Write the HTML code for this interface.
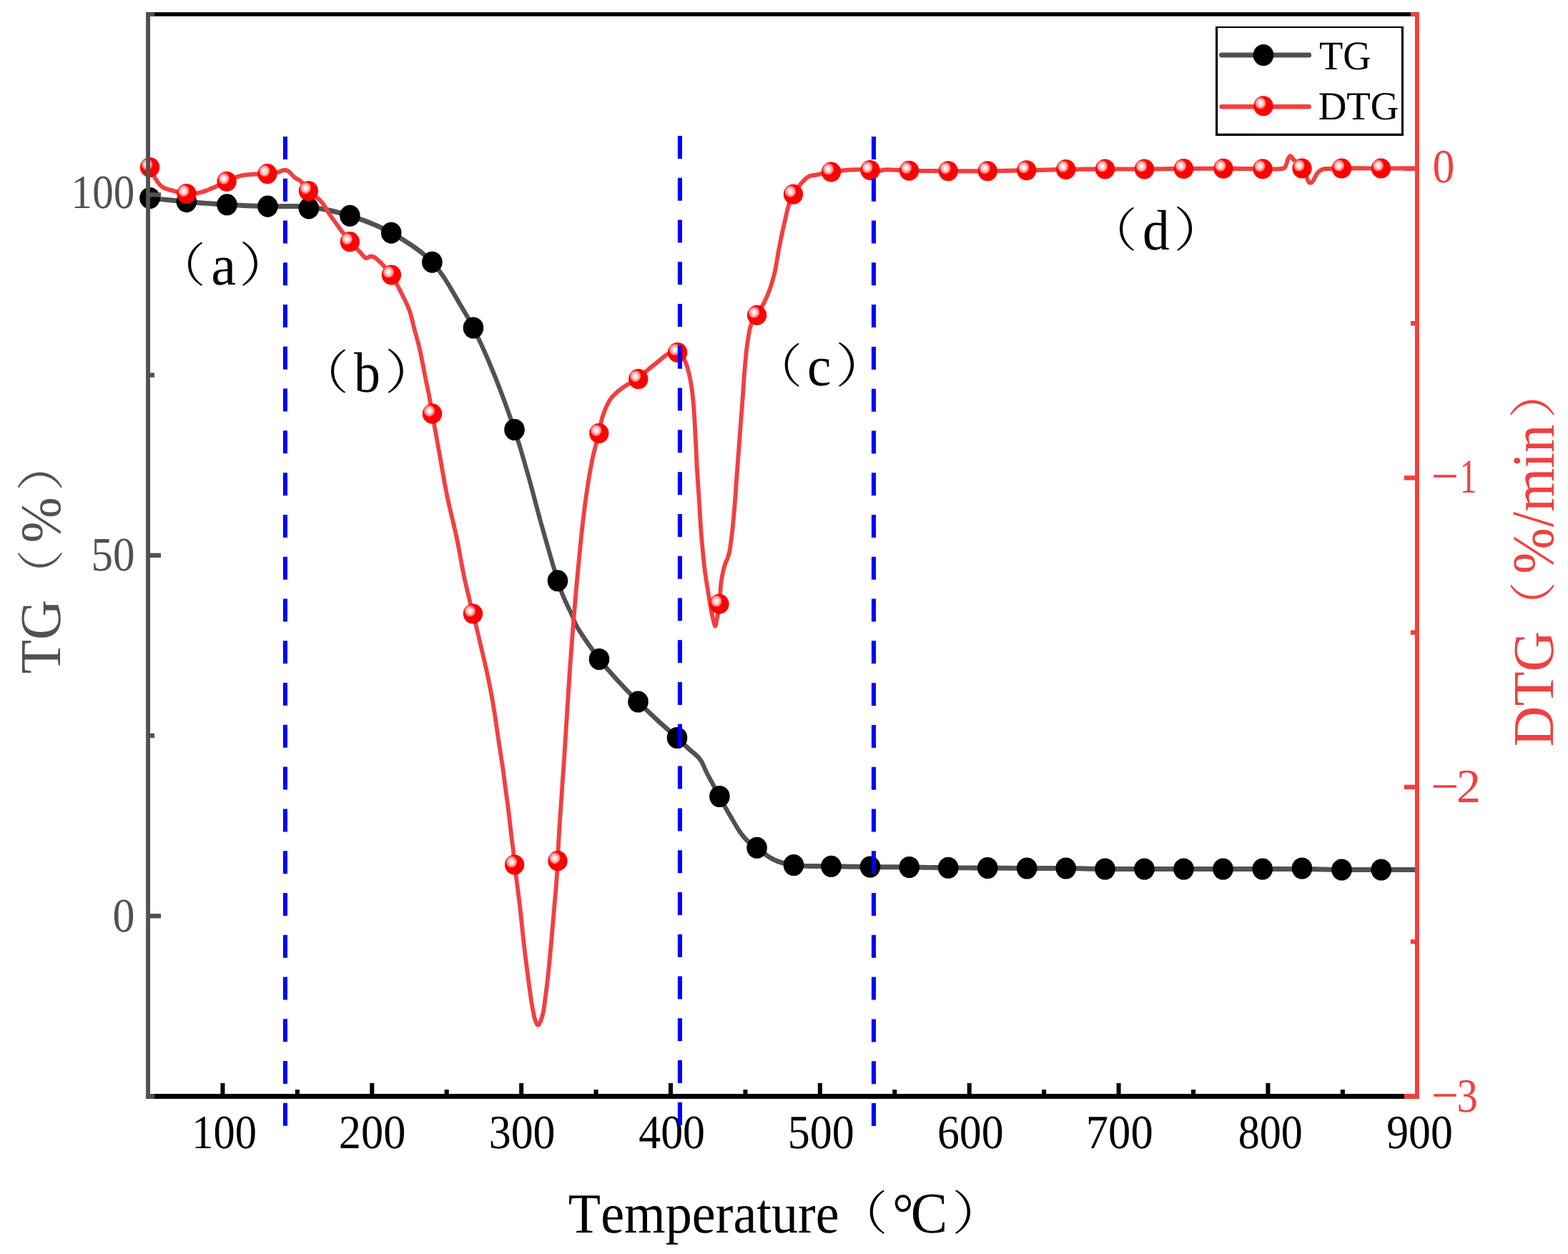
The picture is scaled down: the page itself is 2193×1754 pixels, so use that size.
<!DOCTYPE html>
<html lang="en"><head><meta charset="utf-8"><title>TG / DTG curves</title>
<style>html,body{margin:0;padding:0;background:#fff}body{width:2193px;height:1754px;overflow:hidden}svg{display:block}text{font-kerning:none;text-rendering:geometricPrecision}</style></head>
<body>
<svg width="2193" height="1754" viewBox="0 0 2193 1754" style="display:block;font-kerning:none">
<rect width="2193" height="1754" fill="#fff"/>
<defs>
<g id="rm"><ellipse rx="13.65" ry="14.1" fill="#FF0000"/><g transform="translate(-4.05,-4.0)"><ellipse rx="7.6" ry="8.0" fill="#ff6e6e"/><ellipse rx="6.2" ry="6.5" fill="#ffa0a0"/><ellipse rx="4.9" ry="5.2" fill="#ffc6c6"/><ellipse rx="2.6" ry="3.2" fill="#fff6f6"/></g></g>
<ellipse id="bm" rx="14.3" ry="15.05" fill="#000"/></defs>
<path transform="scale(1,1.16)" d="M207.00,238.62 209.73,238.87 216.93,239.50 227.13,240.40 238.84,241.40 250.59,242.38 260.90,243.19 270.25,243.87 279.65,244.54 289.10,245.17 298.56,245.76 308.04,246.31 317.50,246.81 326.97,247.25 336.44,247.64 345.92,247.98 355.40,248.28 364.90,248.55 374.40,248.79 383.97,248.88 393.57,248.78 403.17,248.65 412.77,248.64 422.35,248.89 431.90,249.57 441.54,250.66 451.17,252.03 460.78,253.68 470.36,255.59 479.91,257.76 489.40,260.17 499.17,262.90 508.92,265.86 518.63,269.09 528.27,272.63 537.80,276.51 547.20,280.78 557.17,285.66 567.19,290.89 577.10,296.50 586.72,302.54 595.87,309.07 604.40,316.12 612.71,324.53 620.58,334.03 627.94,344.06 634.75,354.04 640.96,363.40 646.50,371.55 649.57,375.92 652.23,379.77 654.65,383.36 656.97,386.96 659.37,390.84 662.00,395.26 666.19,402.58 670.62,410.63 675.19,419.26 679.84,428.30 684.47,437.60 689.00,446.98 694.23,458.22 699.55,470.08 704.85,482.27 710.02,494.52 714.94,506.56 719.50,518.10 723.17,527.79 726.58,537.22 729.80,546.48 732.90,555.67 735.94,564.86 739.00,574.14 741.99,583.39 744.85,592.57 747.67,601.76 750.50,611.03 753.42,620.48 756.50,630.17 760.38,642.07 764.66,655.09 769.06,668.32 773.28,680.86 777.03,691.80 780.00,700.26 780.97,702.93 781.79,705.17 782.53,707.13 783.24,708.94 783.98,710.74 784.80,712.67 785.69,714.67 786.59,716.62 787.53,718.57 788.50,720.53 789.52,722.55 790.60,724.66 792.03,727.36 793.61,730.21 795.25,733.15 796.89,736.08 798.47,738.94 799.90,741.64 800.94,743.75 801.86,745.78 802.74,747.75 803.63,749.70 804.60,751.65 805.70,753.62 807.06,755.79 808.53,757.97 810.10,760.14 811.72,762.31 813.36,764.48 815.00,766.64 816.66,768.81 818.35,770.96 820.07,773.10 821.81,775.26 823.59,777.44 825.40,779.66 827.36,782.08 829.29,784.51 831.27,786.97 833.33,789.48 835.56,792.09 838.00,794.83 841.71,798.79 845.83,803.03 850.23,807.43 854.80,811.90 859.43,816.36 864.00,820.69 868.64,825.00 873.36,829.31 878.15,833.60 882.96,837.84 887.76,842.02 892.50,846.12 896.93,849.91 901.32,853.62 905.70,857.28 910.09,860.90 914.52,864.50 919.00,868.10 923.68,871.79 928.51,875.50 933.37,879.20 938.15,882.83 942.74,886.33 947.00,889.66 950.10,892.13 953.04,894.50 955.84,896.79 958.58,899.03 961.28,901.24 964.00,903.45 966.61,905.46 969.26,907.37 971.89,909.26 974.43,911.20 976.82,913.26 979.00,915.52 980.96,918.07 982.64,920.77 984.16,923.60 985.64,926.55 987.22,929.61 989.00,932.76 991.68,937.12 994.68,941.89 997.83,946.83 1000.95,951.71 1003.86,956.29 1006.40,960.34 1007.84,962.70 1009.13,964.85 1010.33,966.87 1011.51,968.82 1012.71,970.79 1014.00,972.84 1015.46,975.10 1016.95,977.35 1018.48,979.61 1020.04,981.91 1021.65,984.24 1023.30,986.64 1025.25,989.51 1027.29,992.54 1029.38,995.62 1031.50,998.66 1033.62,1001.53 1035.70,1004.14 1037.30,1006.01 1038.87,1007.75 1040.43,1009.39 1042.03,1010.96 1043.71,1012.48 1045.50,1013.97 1047.46,1015.43 1049.50,1016.79 1051.61,1018.10 1053.82,1019.40 1056.15,1020.76 1058.60,1022.24 1062.12,1024.51 1065.88,1027.05 1069.85,1029.70 1073.97,1032.28 1078.20,1034.65 1082.50,1036.64 1086.75,1038.22 1091.03,1039.53 1095.42,1040.64 1099.99,1041.57 1104.82,1042.38 1110.00,1043.10 1117.73,1043.85 1126.17,1044.26 1135.10,1044.44 1144.28,1044.48 1153.49,1044.51 1162.50,1044.61 1171.52,1044.77 1180.59,1044.90 1189.68,1045.01 1198.79,1045.09 1207.90,1045.17 1217.00,1045.26 1226.12,1045.34 1235.25,1045.41 1244.38,1045.47 1253.50,1045.54 1262.63,1045.61 1271.75,1045.69 1280.84,1045.79 1289.92,1045.91 1298.99,1046.03 1308.07,1046.14 1317.15,1046.25 1326.25,1046.34 1335.40,1046.39 1344.56,1046.43 1353.73,1046.46 1362.91,1046.48 1372.08,1046.51 1381.25,1046.55 1390.42,1046.62 1399.59,1046.70 1408.77,1046.78 1417.94,1046.86 1427.10,1046.93 1436.25,1046.98 1445.35,1047.00 1454.43,1046.98 1463.51,1046.96 1472.58,1046.93 1481.66,1046.94 1490.75,1046.98 1499.87,1047.09 1508.99,1047.24 1518.11,1047.41 1527.24,1047.59 1536.37,1047.74 1545.50,1047.84 1554.66,1047.89 1563.82,1047.91 1572.99,1047.90 1582.16,1047.88 1591.33,1047.85 1600.50,1047.84 1609.67,1047.84 1618.83,1047.84 1628.00,1047.84 1637.17,1047.84 1646.33,1047.84 1655.50,1047.84 1664.67,1047.84 1673.83,1047.84 1682.99,1047.84 1692.16,1047.84 1701.33,1047.84 1710.50,1047.84 1719.70,1047.84 1728.91,1047.84 1738.12,1047.84 1747.33,1047.84 1756.54,1047.84 1765.75,1047.84 1774.96,1047.83 1784.16,1047.81 1793.37,1047.79 1802.57,1047.78 1811.78,1047.80 1821.00,1047.84 1830.24,1047.95 1839.50,1048.10 1848.75,1048.28 1858.00,1048.45 1867.26,1048.60 1876.50,1048.71 1885.77,1048.76 1895.09,1048.77 1904.40,1048.76 1913.66,1048.74 1922.79,1048.72 1931.75,1048.71 1940.93,1048.71 1951.27,1048.71 1961.51,1048.71 1970.39,1048.71 1976.64,1048.71 1979.00,1048.71" fill="none" stroke="#515151" stroke-width="6.0" stroke-linejoin="round" stroke-linecap="butt"/>
<g><use href="#bm" x="209.5" y="277"/><use href="#bm" x="260.9" y="282.1"/><use href="#bm" x="317.5" y="286.3"/><use href="#bm" x="374.4" y="288.6"/><use href="#bm" x="431.9" y="291.4"/><use href="#bm" x="489.4" y="301.8"/><use href="#bm" x="547.2" y="325.7"/><use href="#bm" x="604.4" y="366.7"/><use href="#bm" x="662" y="458.5"/><use href="#bm" x="719.5" y="601"/><use href="#bm" x="780" y="812.3"/><use href="#bm" x="838" y="922"/><use href="#bm" x="892.5" y="981.5"/><use href="#bm" x="947" y="1032"/><use href="#bm" x="1006.4" y="1114"/><use href="#bm" x="1058.6" y="1185.8"/><use href="#bm" x="1110" y="1210"/><use href="#bm" x="1162.5" y="1211.75"/><use href="#bm" x="1217" y="1212.5"/><use href="#bm" x="1271.75" y="1213"/><use href="#bm" x="1326.25" y="1213.75"/><use href="#bm" x="1381.25" y="1214"/><use href="#bm" x="1436.25" y="1214.5"/><use href="#bm" x="1490.75" y="1214.5"/><use href="#bm" x="1545.5" y="1215.5"/><use href="#bm" x="1600.5" y="1215.5"/><use href="#bm" x="1655.5" y="1215.5"/><use href="#bm" x="1710.5" y="1215.5"/><use href="#bm" x="1765.75" y="1215.5"/><use href="#bm" x="1821" y="1214.5"/><use href="#bm" x="1876.5" y="1216.5"/><use href="#bm" x="1931.75" y="1216.5"/></g>
<path transform="scale(1,1.045)" d="M207.00,221.05 207.51,222.02 208.87,224.53 210.81,228.04 213.04,231.97 215.29,235.76 217.30,238.85 218.75,240.97 220.15,243.02 221.56,244.98 223.07,246.80 224.72,248.47 226.60,249.95 228.91,251.28 231.48,252.36 234.22,253.26 237.07,254.03 239.96,254.76 242.80,255.50 245.73,256.32 248.71,257.12 251.73,257.88 254.77,258.53 257.83,259.03 260.90,259.33 264.04,259.44 267.21,259.38 270.41,259.16 273.60,258.81 276.77,258.32 279.90,257.70 283.05,256.91 286.17,255.93 289.27,254.81 292.35,253.60 295.43,252.34 298.50,251.10 301.62,249.81 304.72,248.44 307.81,247.03 310.90,245.61 314.00,244.21 317.10,242.87 320.17,241.54 323.23,240.17 326.30,238.82 329.37,237.55 332.47,236.42 335.60,235.50 338.65,234.84 341.73,234.35 344.82,234.00 347.93,233.74 351.06,233.52 354.20,233.30 357.48,233.12 360.82,233.03 364.18,232.99 367.51,232.94 370.77,232.84 373.90,232.63 376.59,232.37 379.27,232.07 381.89,231.72 384.41,231.34 386.79,230.91 389.00,230.43 390.52,229.98 391.95,229.44 393.30,228.87 394.59,228.35 395.85,227.95 397.10,227.75 398.11,227.72 399.08,227.76 400.03,227.89 400.97,228.12 401.92,228.45 402.90,228.90 404.40,229.92 405.93,231.35 407.48,233.01 409.05,234.73 410.62,236.36 412.20,237.70 413.54,238.56 414.89,239.24 416.24,239.85 417.60,240.48 418.95,241.23 420.30,242.20 422.11,243.95 423.85,246.05 425.59,248.38 427.39,250.81 429.31,253.23 431.40,255.50 434.11,257.91 437.12,260.21 440.28,262.48 443.45,264.81 446.51,267.28 449.30,269.95 451.88,273.00 454.27,276.28 456.52,279.71 458.71,283.18 460.91,286.63 463.20,289.95 465.50,293.08 467.83,296.19 470.16,299.27 472.50,302.30 474.82,305.29 477.10,308.23 479.16,310.91 481.19,313.55 483.19,316.15 485.21,318.71 487.27,321.21 489.40,323.64 491.56,325.93 493.82,328.18 496.11,330.37 498.39,332.50 500.60,334.57 502.70,336.56 504.36,338.30 505.96,340.18 507.52,342.01 509.04,343.62 510.53,344.82 512.00,345.45 512.98,345.44 513.93,345.10 514.87,344.57 515.80,343.99 516.74,343.51 517.70,343.25 518.65,343.20 519.60,343.24 520.55,343.36 521.52,343.58 522.50,343.89 523.50,344.31 524.97,345.13 526.47,346.21 528.00,347.50 529.56,348.94 531.16,350.48 532.80,352.06 535.15,354.34 537.69,356.89 540.29,359.62 542.85,362.43 545.26,365.24 547.40,367.94 548.99,370.17 550.41,372.39 551.73,374.59 552.98,376.81 554.22,379.06 555.50,381.34 556.86,383.75 558.20,386.17 559.52,388.62 560.84,391.11 562.17,393.65 563.50,396.27 565.02,399.24 566.58,402.27 568.15,405.36 569.68,408.54 571.14,411.82 572.50,415.22 573.88,419.25 575.14,423.48 576.30,427.84 577.42,432.27 578.54,436.69 579.70,441.05 580.91,445.31 582.13,449.52 583.35,453.73 584.56,457.99 585.75,462.36 586.90,466.89 588.16,472.33 589.38,477.99 590.57,483.80 591.74,489.67 592.91,495.54 594.10,501.34 595.34,507.19 596.62,513.20 597.90,519.20 599.14,525.05 600.29,530.60 601.30,535.69 601.91,538.93 602.42,541.81 602.89,544.53 603.36,547.30 603.88,550.31 604.50,553.78 605.77,560.63 607.25,568.45 608.87,576.97 610.58,585.89 612.31,594.94 614.00,603.83 615.80,613.50 617.60,623.42 619.43,633.49 621.30,643.61 623.25,653.69 625.30,663.64 627.47,673.33 629.79,683.02 632.18,692.66 634.57,702.24 636.86,711.71 639.00,721.05 640.79,729.61 642.44,738.04 644.01,746.38 645.59,754.68 647.22,762.97 649.00,771.29 651.02,780.04 653.24,789.21 655.53,798.37 657.76,807.10 659.79,814.96 661.50,821.53 662.23,824.30 662.87,826.62 663.45,828.71 664.02,830.75 664.62,832.95 665.30,835.50 666.46,840.03 667.72,845.08 669.05,850.49 670.41,856.08 671.78,861.67 673.10,867.08 674.40,872.36 675.71,877.63 677.02,882.91 678.32,888.19 679.58,893.47 680.80,898.76 681.97,904.01 683.12,909.27 684.23,914.53 685.32,919.80 686.38,925.06 687.40,930.33 688.39,935.61 689.34,940.88 690.26,946.16 691.16,951.44 692.04,956.73 692.90,962.01 693.74,967.29 694.54,972.57 695.32,977.85 696.10,983.13 696.89,988.41 697.70,993.68 698.54,998.95 699.40,1004.21 700.27,1009.47 701.14,1014.73 701.99,1020.00 702.80,1025.26 703.57,1030.54 704.32,1035.82 705.04,1041.10 705.76,1046.38 706.47,1051.66 707.20,1056.94 707.94,1062.20 708.69,1067.46 709.44,1072.73 710.18,1077.99 710.90,1083.25 711.60,1088.52 712.27,1093.87 712.93,1099.31 713.56,1104.75 714.19,1110.10 714.80,1115.28 715.40,1120.19 715.90,1124.00 716.40,1127.66 716.90,1131.21 717.37,1134.66 717.81,1138.03 718.20,1141.34 718.48,1144.14 718.70,1146.85 718.90,1149.50 719.10,1152.12 719.32,1154.75 719.60,1157.42 719.93,1160.10 720.30,1162.68 720.68,1165.26 721.10,1167.97 721.54,1170.90 722.00,1174.16 722.84,1180.40 723.79,1187.54 724.80,1195.29 725.84,1203.34 726.85,1211.39 727.80,1219.14 728.67,1226.63 729.49,1234.13 730.29,1241.63 731.10,1249.12 731.92,1256.62 732.80,1264.11 733.74,1271.72 734.73,1279.45 735.74,1287.18 736.75,1294.78 737.75,1302.12 738.70,1309.09 739.45,1314.55 740.18,1319.91 740.91,1325.09 741.62,1330.05 742.31,1334.72 743.00,1339.04 743.47,1341.87 743.93,1344.51 744.39,1347.01 744.84,1349.41 745.31,1351.74 745.80,1354.07 746.22,1356.12 746.62,1358.15 747.03,1360.14 747.48,1362.06 748.00,1363.87 748.60,1365.55 749.16,1366.92 749.78,1368.37 750.45,1369.76 751.13,1370.93 751.82,1371.75 752.50,1372.06 753.19,1371.76 753.90,1370.95 754.62,1369.77 755.32,1368.38 755.99,1366.92 756.60,1365.55 757.28,1363.87 757.89,1362.06 758.45,1360.15 758.96,1358.16 759.44,1356.12 759.90,1354.07 760.37,1351.75 760.76,1349.41 761.12,1347.01 761.46,1344.51 761.81,1341.87 762.20,1339.04 762.81,1334.72 763.45,1330.05 764.11,1325.09 764.78,1319.91 765.45,1314.56 766.10,1309.09 766.88,1302.13 767.67,1294.78 768.44,1287.18 769.21,1279.45 769.96,1271.72 770.70,1264.11 771.41,1256.62 772.11,1249.12 772.79,1241.63 773.47,1234.13 774.13,1226.64 774.80,1219.14 775.49,1211.46 776.20,1203.55 776.91,1195.65 777.58,1187.97 778.19,1180.73 778.70,1174.16 778.98,1170.11 779.22,1166.42 779.43,1162.95 779.62,1159.55 779.80,1156.06 780.00,1152.34 780.23,1147.79 780.46,1143.07 780.67,1138.24 780.90,1133.35 781.14,1128.47 781.40,1123.64 781.69,1118.85 781.99,1114.07 782.31,1109.28 782.63,1104.50 782.97,1099.71 783.30,1094.93 783.64,1090.14 783.99,1085.36 784.34,1080.57 784.70,1075.79 785.05,1071.00 785.40,1066.22 785.74,1061.44 786.07,1056.65 786.40,1051.87 786.73,1047.08 787.06,1042.30 787.40,1037.51 787.75,1032.73 788.10,1027.94 788.46,1023.16 788.81,1018.37 789.16,1013.59 789.50,1008.80 789.83,1004.02 790.15,999.23 790.46,994.45 790.77,989.67 791.09,984.88 791.40,980.10 791.72,975.31 792.03,970.53 792.35,965.74 792.67,960.96 792.98,956.17 793.30,951.39 793.62,946.60 793.93,941.82 794.24,937.03 794.56,932.25 794.88,927.46 795.20,922.68 795.53,917.89 795.85,913.11 796.18,908.32 796.51,903.54 796.85,898.76 797.20,893.97 797.55,889.19 797.91,884.40 798.28,879.62 798.65,874.83 799.03,870.05 799.40,865.26 799.78,860.48 800.15,855.69 800.53,850.91 800.91,846.12 801.30,841.34 801.70,836.56 802.10,831.77 802.51,826.98 802.93,822.20 803.35,817.42 803.78,812.63 804.20,807.85 804.63,803.06 805.05,798.28 805.48,793.49 805.91,788.71 806.35,783.92 806.80,779.14 807.25,774.35 807.71,769.57 808.18,764.78 808.64,760.00 809.12,755.21 809.60,750.43 810.09,745.65 810.57,740.86 811.07,736.08 811.57,731.29 812.08,726.51 812.60,721.72 813.13,716.94 813.66,712.15 814.19,707.37 814.74,702.58 815.31,697.80 815.90,693.01 816.51,688.23 817.13,683.44 817.77,678.66 818.43,673.87 819.10,669.09 819.80,664.31 820.51,659.52 821.23,654.73 821.98,649.94 822.75,645.16 823.55,640.38 824.40,635.60 825.29,630.79 826.20,625.98 827.16,621.17 828.15,616.37 829.20,611.61 830.30,606.89 831.49,602.26 832.80,597.59 834.16,592.95 835.50,588.41 836.74,584.04 837.80,579.90 838.48,576.82 839.06,573.83 839.57,570.95 840.07,568.18 840.60,565.52 841.20,562.97 841.73,561.01 842.27,559.17 842.83,557.39 843.42,555.65 844.04,553.92 844.70,552.15 845.43,550.29 846.21,548.40 847.02,546.51 847.86,544.65 848.72,542.86 849.60,541.15 850.36,539.74 851.11,538.39 851.88,537.09 852.68,535.81 853.55,534.56 854.50,533.30 855.65,531.92 856.90,530.56 858.22,529.21 859.59,527.89 860.99,526.60 862.40,525.36 863.83,524.15 865.30,522.98 866.80,521.84 868.31,520.73 869.82,519.67 871.30,518.66 872.60,517.81 873.86,517.02 875.11,516.26 876.40,515.52 877.75,514.76 879.20,513.97 881.27,512.95 883.54,511.96 885.92,510.95 888.32,509.87 890.64,508.69 892.80,507.37 894.77,505.85 896.59,504.17 898.33,502.39 900.07,500.55 901.87,498.72 903.80,496.94 906.11,495.00 908.53,493.06 911.02,491.12 913.56,489.19 916.09,487.27 918.60,485.36 921.11,483.39 923.69,481.33 926.28,479.28 928.80,477.35 931.19,475.64 933.40,474.26 934.69,473.55 935.89,472.93 937.05,472.41 938.18,471.97 939.32,471.63 940.50,471.39 941.68,471.24 942.90,471.17 944.12,471.19 945.33,471.29 946.50,471.48 947.60,471.77 948.59,472.14 949.56,472.60 950.48,473.14 951.37,473.75 952.21,474.41 953.00,475.12 953.78,475.92 954.48,476.78 955.14,477.70 955.77,478.68 956.38,479.74 957.00,480.86 957.81,482.49 958.60,484.25 959.36,486.14 960.09,488.13 960.81,490.20 961.50,492.34 962.34,495.17 963.16,498.20 963.93,501.35 964.67,504.58 965.36,507.82 966.00,511.00 966.58,514.17 967.10,517.35 967.57,520.55 968.00,523.75 968.41,526.95 968.80,530.14 969.16,533.33 969.50,536.52 969.80,539.71 970.08,542.90 970.35,546.09 970.60,549.28 970.84,552.47 971.05,555.66 971.25,558.85 971.44,562.04 971.62,565.23 971.80,568.42 971.98,571.61 972.15,574.80 972.31,577.99 972.47,581.18 972.64,584.37 972.80,587.56 972.97,590.76 973.14,593.98 973.31,597.19 973.48,600.39 973.64,603.57 973.80,606.70 973.93,609.58 974.05,612.36 974.17,615.13 974.29,617.93 974.43,620.84 974.60,623.92 974.86,628.07 975.16,632.47 975.49,637.03 975.83,641.69 976.18,646.37 976.50,651.00 976.82,655.77 977.14,660.57 977.45,665.40 977.77,670.24 978.08,675.08 978.40,679.90 978.71,684.71 979.01,689.51 979.31,694.31 979.62,699.11 979.94,703.91 980.30,708.71 980.68,713.52 981.09,718.34 981.51,723.16 981.96,727.98 982.42,732.79 982.90,737.61 983.39,742.43 983.90,747.25 984.42,752.07 984.97,756.89 985.56,761.70 986.20,766.51 986.90,771.32 987.64,776.12 988.43,780.92 989.24,785.71 990.07,790.51 990.90,795.31 991.74,800.25 992.60,805.35 993.47,810.44 994.36,815.39 995.27,820.03 996.20,824.21 996.88,827.12 997.59,830.18 998.32,833.10 999.03,835.57 999.69,837.27 1000.30,837.89 1000.74,837.46 1001.14,836.32 1001.51,834.67 1001.87,832.72 1002.23,830.66 1002.60,828.71 1003.18,825.84 1003.77,822.71 1004.36,819.35 1004.94,815.81 1005.49,812.15 1006.00,808.42 1006.53,803.54 1006.95,798.30 1007.34,792.86 1007.75,787.41 1008.25,782.14 1008.90,777.22 1009.57,773.37 1010.30,769.62 1011.10,765.98 1011.95,762.49 1012.85,759.15 1013.80,755.98 1014.62,753.67 1015.52,751.55 1016.45,749.54 1017.36,747.52 1018.23,745.40 1019.00,743.06 1019.83,739.82 1020.55,736.40 1021.19,732.81 1021.77,729.04 1022.33,725.12 1022.90,721.05 1023.63,715.55 1024.31,709.73 1024.96,703.65 1025.59,697.36 1026.20,690.93 1026.80,684.40 1027.48,676.68 1028.12,668.66 1028.75,660.44 1029.36,652.13 1029.98,643.82 1030.60,635.60 1031.23,627.45 1031.86,619.30 1032.49,611.15 1033.13,603.00 1033.76,594.85 1034.40,586.70 1035.05,578.56 1035.70,570.43 1036.36,562.30 1037.01,554.16 1037.66,546.03 1038.30,537.89 1038.92,529.64 1039.51,521.25 1040.09,512.87 1040.69,504.61 1041.32,496.61 1042.00,489.00 1042.58,482.96 1043.15,477.10 1043.75,471.42 1044.39,465.92 1045.10,460.61 1045.90,455.50 1046.59,451.38 1047.27,447.33 1048.00,443.41 1048.82,439.67 1049.81,436.19 1051.00,433.01 1052.06,430.92 1053.24,429.11 1054.50,427.44 1055.83,425.78 1057.20,423.98 1058.60,421.91 1060.77,418.41 1063.14,414.51 1065.60,410.34 1068.05,405.98 1070.39,401.54 1072.50,397.13 1074.46,392.58 1076.28,387.96 1077.98,383.26 1079.57,378.45 1081.07,373.51 1082.50,368.42 1083.98,362.36 1085.28,356.01 1086.47,349.50 1087.61,342.93 1088.77,336.44 1090.00,330.14 1091.23,324.36 1092.47,318.59 1093.73,312.89 1094.99,307.30 1096.25,301.87 1097.50,296.65 1098.53,292.33 1099.53,288.07 1100.53,283.93 1101.55,279.96 1102.61,276.20 1103.75,272.73 1104.58,270.38 1105.36,268.26 1106.16,266.26 1107.07,264.29 1108.15,262.25 1109.50,260.05 1112.10,256.22 1115.31,251.86 1118.92,247.35 1122.71,243.08 1126.48,239.45 1130.00,236.84 1132.07,235.83 1134.09,235.21 1136.09,234.84 1138.13,234.60 1140.25,234.35 1142.50,233.97 1145.52,233.33 1148.69,232.67 1151.99,231.99 1155.41,231.33 1158.92,230.71 1162.50,230.14 1166.82,229.53 1171.34,228.94 1175.98,228.39 1180.68,227.92 1185.37,227.54 1190.00,227.27 1194.70,227.12 1199.61,227.05 1204.52,227.07 1209.20,227.18 1213.44,227.41 1217.00,227.75 1218.60,228.04 1219.96,228.43 1221.19,228.85 1222.38,229.24 1223.62,229.53 1225.00,229.67 1226.85,229.54 1228.72,229.17 1230.68,228.65 1232.76,228.09 1235.02,227.60 1237.50,227.27 1242.10,227.11 1247.29,227.23 1252.94,227.52 1258.94,227.89 1265.17,228.24 1271.50,228.47 1279.87,228.62 1288.78,228.73 1298.06,228.81 1307.51,228.87 1316.97,228.91 1326.25,228.95 1335.41,228.99 1344.58,229.02 1353.76,229.04 1362.93,229.04 1372.10,229.01 1381.25,228.95 1390.35,228.85 1399.43,228.71 1408.50,228.54 1417.57,228.36 1426.66,228.17 1435.75,227.99 1444.90,227.80 1454.07,227.58 1463.24,227.36 1472.42,227.15 1481.59,226.95 1490.75,226.79 1499.88,226.67 1509.00,226.56 1518.12,226.48 1527.25,226.41 1536.37,226.36 1545.50,226.32 1554.66,226.29 1563.82,226.30 1572.99,226.32 1582.16,226.33 1591.33,226.34 1600.50,226.32 1609.66,226.26 1618.82,226.18 1627.98,226.09 1637.15,226.00 1646.32,225.91 1655.50,225.84 1664.74,225.78 1673.99,225.71 1683.25,225.66 1692.51,225.62 1701.76,225.59 1711.00,225.60 1720.44,225.64 1730.18,225.73 1739.92,225.83 1749.34,225.94 1758.14,226.03 1766.00,226.08 1770.75,226.12 1775.32,226.19 1779.62,226.26 1783.56,226.27 1787.05,226.21 1790.00,226.03 1791.27,225.92 1792.41,225.84 1793.44,225.74 1794.37,225.57 1795.22,225.30 1796.00,224.88 1796.67,224.31 1797.24,223.61 1797.73,222.81 1798.17,221.93 1798.58,221.02 1799.00,220.10 1799.46,218.90 1799.85,217.58 1800.20,216.19 1800.56,214.82 1800.98,213.55 1801.50,212.44 1801.98,211.63 1802.51,210.81 1803.08,210.04 1803.66,209.40 1804.24,208.96 1804.80,208.80 1805.34,209.00 1805.87,209.51 1806.40,210.22 1806.93,211.01 1807.46,211.79 1808.00,212.44 1808.49,212.91 1808.98,213.35 1809.47,213.78 1809.97,214.20 1810.48,214.64 1811.00,215.12 1811.64,215.71 1812.29,216.32 1812.96,216.95 1813.63,217.62 1814.31,218.34 1815.00,219.14 1815.95,220.38 1816.94,221.79 1817.93,223.31 1818.92,224.85 1819.88,226.35 1820.80,227.75 1821.55,228.87 1822.28,229.96 1822.99,231.03 1823.69,232.06 1824.36,233.04 1825.00,233.97 1825.48,234.64 1825.95,235.25 1826.40,235.83 1826.84,236.42 1827.27,237.03 1827.70,237.70 1828.18,238.65 1828.62,239.73 1829.04,240.85 1829.48,241.92 1829.96,242.85 1830.50,243.54 1830.89,243.87 1831.30,244.14 1831.72,244.35 1832.15,244.50 1832.58,244.58 1833.00,244.59 1833.43,244.50 1833.86,244.32 1834.30,244.05 1834.72,243.74 1835.12,243.40 1835.50,243.06 1835.87,242.70 1836.19,242.31 1836.50,241.90 1836.80,241.45 1837.13,240.94 1837.50,240.38 1838.24,239.12 1839.05,237.55 1839.93,235.83 1840.87,234.08 1841.90,232.46 1843.00,231.10 1844.03,230.11 1845.14,229.22 1846.30,228.41 1847.50,227.70 1848.74,227.10 1850.00,226.60 1851.23,226.26 1852.46,226.07 1853.72,225.97 1855.04,225.93 1856.46,225.90 1858.00,225.84 1860.53,225.71 1863.23,225.60 1866.16,225.52 1869.32,225.46 1872.76,225.41 1876.50,225.36 1884.02,225.30 1892.82,225.28 1902.42,225.29 1912.38,225.32 1922.23,225.35 1931.50,225.36 1940.72,225.36 1951.11,225.36 1961.40,225.36 1970.33,225.36 1976.62,225.36 1979.00,225.36" fill="none" stroke="#F14040" stroke-width="5.85" stroke-linejoin="round" stroke-linecap="butt"/>
<g><use href="#rm" x="209.6" y="234"/><use href="#rm" x="260.9" y="271"/><use href="#rm" x="317.1" y="253.8"/><use href="#rm" x="373.9" y="243.1"/><use href="#rm" x="431.4" y="267"/><use href="#rm" x="489.4" y="338.2"/><use href="#rm" x="547.4" y="384.5"/><use href="#rm" x="604.5" y="578.7"/><use href="#rm" x="661.5" y="858.5"/><use href="#rm" x="719.6" y="1209.5"/><use href="#rm" x="780" y="1204.2"/><use href="#rm" x="837.8" y="606"/><use href="#rm" x="892.8" y="530.2"/><use href="#rm" x="947.6" y="493"/><use href="#rm" x="1006" y="844.8"/><use href="#rm" x="1058.6" y="440.9"/><use href="#rm" x="1109.5" y="271.75"/><use href="#rm" x="1162.5" y="240.5"/><use href="#rm" x="1217" y="238"/><use href="#rm" x="1271.5" y="238.75"/><use href="#rm" x="1326.25" y="239.25"/><use href="#rm" x="1381.25" y="239.25"/><use href="#rm" x="1435.75" y="238.25"/><use href="#rm" x="1490.75" y="237"/><use href="#rm" x="1545.5" y="236.5"/><use href="#rm" x="1600.5" y="236.5"/><use href="#rm" x="1655.5" y="236"/><use href="#rm" x="1711" y="235.75"/><use href="#rm" x="1766" y="236.25"/><use href="#rm" x="1821" y="235.5"/><use href="#rm" x="1876.5" y="235.5"/><use href="#rm" x="1931.5" y="235.5"/></g>
<path d="M1700,37H1963V189.9H1700Z M1703.2,39.1V186.8H1959.9V39.1Z" fill="#000" fill-rule="evenodd"/>
<line x1="1708.5" x2="1830.7" y1="77" y2="77" stroke="#515151" stroke-width="6.8999999999999995" stroke-linecap="round"/>
<use href="#bm" x="1767" y="77"/>
<line x1="1708.5" x2="1830.7" y1="149.25" y2="149.25" stroke="#F14040" stroke-width="6.3" stroke-linecap="round"/>
<use href="#rm" x="1767" y="148.25"/>
<rect x="204.1" y="1530.0" width="1780.80" height="6.96" fill="#000"/>
<rect x="204.1" y="17.16" width="1780.80" height="5.57" fill="#000"/>
<g fill="#000"><rect x="308.43" y="1515.00" width="6" height="16"/><rect x="412.86" y="1524.00" width="6" height="7"/><rect x="517.29" y="1515.00" width="6" height="16"/><rect x="621.72" y="1524.00" width="6" height="7"/><rect x="726.15" y="1515.00" width="6" height="16"/><rect x="830.58" y="1524.00" width="6" height="7"/><rect x="935.01" y="1515.00" width="6" height="16"/><rect x="1039.44" y="1524.00" width="6" height="7"/><rect x="1143.87" y="1515.00" width="6" height="16"/><rect x="1248.30" y="1524.00" width="6" height="7"/><rect x="1352.73" y="1515.00" width="6" height="16"/><rect x="1457.16" y="1524.00" width="6" height="7"/><rect x="1561.59" y="1515.00" width="6" height="16"/><rect x="1666.02" y="1524.00" width="6" height="7"/><rect x="1770.45" y="1515.00" width="6" height="16"/><rect x="1874.88" y="1524.00" width="6" height="7"/></g>
<g fill="#515151"><rect x="204.1" y="17.16" width="5.90" height="1519.80"/><rect x="209.00" y="1530.00" width="7" height="6.96"/><rect x="209.00" y="1278.00" width="16" height="6.40"/><rect x="209.00" y="1025.81" width="7" height="6.40"/><rect x="209.00" y="773.62" width="16" height="6.40"/><rect x="209.00" y="521.42" width="7" height="6.40"/><rect x="209.00" y="269.23" width="16" height="6.40"/><rect x="209.00" y="17.16" width="7" height="5.57"/></g>
<g fill="#F14040"><rect x="1978.9" y="17.16" width="6.00" height="1519.80"/><rect x="1963.90" y="1530.00" width="16" height="6.96"/><rect x="1972.90" y="1313.95" width="7" height="6.40"/><rect x="1963.90" y="1097.70" width="16" height="6.40"/><rect x="1972.90" y="881.45" width="7" height="6.40"/><rect x="1963.90" y="665.20" width="16" height="6.40"/><rect x="1972.90" y="448.95" width="7" height="6.40"/><rect x="1963.90" y="232.70" width="16" height="6.40"/><rect x="1972.90" y="17.16" width="7" height="5.57"/></g>
<g>
<text transform="translate(99.61,291.25) scale(0.5910,0.6683)" font-family='"Liberation Serif", serif' font-size="100" fill="#515151">100</text>
<text transform="translate(127.55,797.74) scale(0.6107,0.6713)" font-family='"Liberation Serif", serif' font-size="100" fill="#515151">50</text>
<text transform="translate(157.44,1303.45) scale(0.6205,0.6698)" font-family='"Liberation Serif", serif' font-size="100" fill="#515151">0</text>
<text transform="translate(2003.45,255.15) scale(0.6182,0.6639)" font-family='"Liberation Serif", serif' font-size="100" fill="#F14040">0</text>
<text transform="translate(2001.72,690.30) scale(0.6791,0.7228)" font-family='"Liberation Serif", serif' font-size="100" fill="#F14040">−</text>
<text transform="translate(2041.66,688.50) scale(0.4715,0.6771)" font-family='"Liberation Serif", serif' font-size="100" fill="#F14040">1</text>
<text transform="translate(2001.46,1122.45) scale(0.6898,0.6626)" font-family='"Liberation Serif", serif' font-size="100" fill="#F14040">−</text>
<text transform="translate(2036.92,1122.00) scale(0.6785,0.6676)" font-family='"Liberation Serif", serif' font-size="100" fill="#F14040">2</text>
<text transform="translate(2001.83,1556.40) scale(0.6769,0.7228)" font-family='"Liberation Serif", serif' font-size="100" fill="#F14040">−</text>
<text transform="translate(2037.40,1555.25) scale(0.5858,0.6683)" font-family='"Liberation Serif", serif' font-size="100" fill="#F14040">3</text>
<text transform="translate(1845.01,96.94) scale(0.5453,0.5693)" font-family='"Liberation Serif", serif' font-size="100" fill="#000">TG</text>
<text transform="translate(1843.67,167.45) scale(0.5488,0.5581)" font-family='"Liberation Serif", serif' font-size="100" fill="#000">DTG</text>
<text transform="translate(794.86,1724.09) scale(0.7416,0.7895)" font-family='"Liberation Serif", serif' font-size="100" fill="#000">Temperature</text>
<text transform="translate(1170.35,1720.20) scale(0.7113,0.6552)" font-family='"Noto Serif CJK SC", "Liberation Serif", serif' font-weight="300" font-size="100" fill="#000">（</text>
<text transform="translate(1248.28,1723.98) scale(0.7354,0.7981)" font-family='"Liberation Serif", serif' font-size="100" fill="#000">°</text>
<text transform="translate(1273.74,1724.41) scale(0.7708,0.8082)" font-family='"Liberation Serif", serif' font-size="100" fill="#000">C</text>
<text transform="translate(1331.22,1720.16) scale(0.7430,0.6595)" font-family='"Noto Serif CJK SC", "Liberation Serif", serif' font-weight="300" font-size="100" fill="#000">）</text>
<text transform="translate(216.68,394.31) scale(0.7077,0.6542)" font-family='"Noto Serif CJK SC", "Liberation Serif", serif' font-weight="300" font-size="100" fill="#000">（</text>
<text transform="translate(295.24,398.22) scale(0.7860,0.7975)" font-family='"Liberation Serif", serif' font-size="100" fill="#000">a</text>
<text transform="translate(334.19,394.22) scale(0.7394,0.6638)" font-family='"Noto Serif CJK SC", "Liberation Serif", serif' font-weight="300" font-size="100" fill="#000">）</text>
<text transform="translate(416.68,544.31) scale(0.7077,0.6542)" font-family='"Noto Serif CJK SC", "Liberation Serif", serif' font-weight="300" font-size="100" fill="#000">（</text>
<text transform="translate(494.90,548.22) scale(0.7393,0.7959)" font-family='"Liberation Serif", serif' font-size="100" fill="#000">b</text>
<text transform="translate(538.12,544.22) scale(0.7430,0.6638)" font-family='"Noto Serif CJK SC", "Liberation Serif", serif' font-weight="300" font-size="100" fill="#000">）</text>
<text transform="translate(1051.35,535.22) scale(0.7113,0.6531)" font-family='"Noto Serif CJK SC", "Liberation Serif", serif' font-weight="300" font-size="100" fill="#000">（</text>
<text transform="translate(1129.04,539.23) scale(0.7520,0.7922)" font-family='"Liberation Serif", serif' font-size="100" fill="#000">c</text>
<text transform="translate(1168.20,535.12) scale(0.7465,0.6638)" font-family='"Noto Serif CJK SC", "Liberation Serif", serif' font-weight="300" font-size="100" fill="#000">）</text>
<text transform="translate(1519.68,345.22) scale(0.7077,0.6531)" font-family='"Noto Serif CJK SC", "Liberation Serif", serif' font-weight="300" font-size="100" fill="#000">（</text>
<text transform="translate(1598.07,349.22) scale(0.7550,0.7973)" font-family='"Liberation Serif", serif' font-size="100" fill="#000">d</text>
<text transform="translate(1641.20,345.12) scale(0.7465,0.6638)" font-family='"Noto Serif CJK SC", "Liberation Serif", serif' font-weight="300" font-size="100" fill="#000">）</text>
<text transform="translate(84.41,942.40) rotate(-90) scale(0.7767,0.8082)" font-family='"Liberation Serif", serif' font-size="100" fill="#515151">TG</text>
<text transform="translate(80.53,841.53) rotate(-90) scale(0.7324,0.6627)" font-family='"Noto Serif CJK SC", "Liberation Serif", serif' font-weight="300" font-size="100" fill="#515151">（</text>
<text transform="translate(84.14,759.22) rotate(-90) scale(0.7677,0.8006)" font-family='"Liberation Serif", serif' font-size="100" fill="#515151">%</text>
<text transform="translate(80.53,687.19) rotate(-90) scale(0.7606,0.6627)" font-family='"Noto Serif CJK SC", "Liberation Serif", serif' font-weight="300" font-size="100" fill="#515151">）</text>
<text transform="translate(2172.41,1044.26) rotate(-90) scale(0.7859,0.8082)" font-family='"Liberation Serif", serif' font-size="100" fill="#F14040">DTG</text>
<text transform="translate(2168.27,883.46) rotate(-90) scale(0.7007,0.6585)" font-family='"Noto Serif CJK SC", "Liberation Serif", serif' font-weight="300" font-size="100" fill="#F14040">（</text>
<text transform="translate(2171.92,802.64) rotate(-90) scale(0.7716,0.8213)" font-family='"Liberation Serif", serif' font-size="100" fill="#F14040">%</text>
<text transform="translate(2172.18,736.90) rotate(-90) scale(0.7595,0.8386)" font-family='"Liberation Serif", serif' font-size="100" fill="#F14040">/</text>
<text transform="translate(2172.50,715.85) rotate(-90) scale(0.7845,0.8428)" font-family='"Liberation Serif", serif' font-size="100" fill="#F14040">min</text>
<text transform="translate(2168.27,585.38) rotate(-90) scale(0.7430,0.6585)" font-family='"Noto Serif CJK SC", "Liberation Serif", serif' font-weight="300" font-size="100" fill="#F14040">）</text>
<text transform="translate(268.18,1606.35) scale(0.6048,0.6683)" font-family='"Liberation Serif", serif' font-size="100" fill="#000">100</text>
<text transform="translate(473.76,1606.35) scale(0.6241,0.6683)" font-family='"Liberation Serif", serif' font-size="100" fill="#000">200</text>
<text transform="translate(683.74,1606.35) scale(0.6188,0.6683)" font-family='"Liberation Serif", serif' font-size="100" fill="#000">300</text>
<text transform="translate(893.19,1606.35) scale(0.6191,0.6683)" font-family='"Liberation Serif", serif' font-size="100" fill="#000">400</text>
<text transform="translate(1101.80,1606.35) scale(0.6197,0.6683)" font-family='"Liberation Serif", serif' font-size="100" fill="#000">500</text>
<text transform="translate(1310.94,1606.35) scale(0.6181,0.6683)" font-family='"Liberation Serif", serif' font-size="100" fill="#000">600</text>
<text transform="translate(1518.77,1606.35) scale(0.6261,0.6683)" font-family='"Liberation Serif", serif' font-size="100" fill="#000">700</text>
<text transform="translate(1731.81,1606.35) scale(0.6005,0.6683)" font-family='"Liberation Serif", serif' font-size="100" fill="#000">800</text>
<text transform="translate(1939.21,1606.35) scale(0.6176,0.6683)" font-family='"Liberation Serif", serif' font-size="100" fill="#000">900</text>
</g>
<line x1="398.97" y1="190.9" x2="398.97" y2="1574.9" stroke="#0000FF" stroke-width="6.1" stroke-dasharray="32.0 26.78"/>
<line x1="950.95" y1="189.9" x2="950.95" y2="1573.9" stroke="#0000FF" stroke-width="6.1" stroke-dasharray="32.0 26.78"/>
<line x1="1221.97" y1="191.0" x2="1221.97" y2="1575.0" stroke="#0000FF" stroke-width="6.1" stroke-dasharray="32.0 26.78"/>
</svg>
</body></html>
